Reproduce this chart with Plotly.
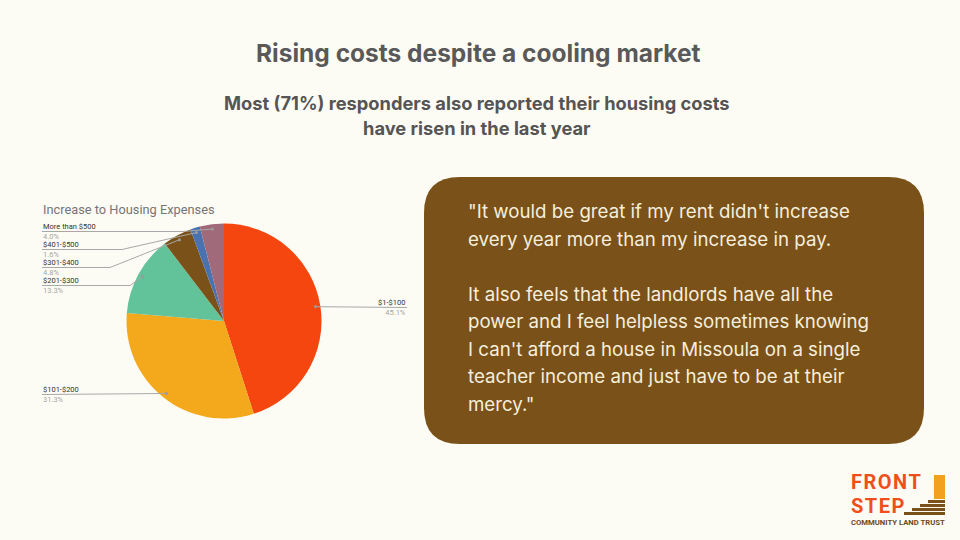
import plotly.graph_objects as go
import math

# ---------------- data ----------------
categories = ["$1-$100", "$101-$200", "$201-$300", "$301-$400", "$401-$500", "More than $500"]
values = [45.1, 31.3, 13.3, 4.8, 1.6, 4.0]
pct_labels = ["45.1%", "31.3%", "13.3%", "4.8%", "1.6%", "4.0%"]
slice_colors = ["#F4460E", "#F4A81C", "#62C29A", "#7A5118", "#4A72B0", "#A06A7A"]

title_text = "Rising costs despite a cooling market"
subtitle_lines = ["Most (71%) responders also reported their housing costs",
                  "have risen in the last year"]
chart_title = "Increase to Housing Expenses"
quote_lines = [
    "\"It would be great if my rent didn't increase",
    "every year more than my increase in pay.",
    "",
    "It also feels that the landlords have all the",
    "power and I feel helpless sometimes knowing",
    "I can't afford a house in Missoula on a single",
    "teacher income and just have to be at their",
    "mercy.\"",
]
logo_lines = ["FRONT", "STEP"]
logo_tagline = "COMMUNITY LAND TRUST"

# ---------------- layout settings ----------------
W, H = 960, 540
BG = "#FDFCF4"
CX, CY, R = 224, 321, 97.5           # pie centre / radius in pixels
# label placement (pixels): side, name-centre y, elbow x
label_side = ["right", "left", "left", "left", "left", "left"]
label_y = [302, 389, 280, 262, 244, 226]
label_elbow = [None, None, 130, 110, 122, 182]
LEFT_X = 42
RIGHT_X = 407
LBL_FS = 7.5

fig = go.Figure()

# hidden pixel-space axes
fig.add_trace(go.Scatter(x=[0, W], y=[0, H], mode="markers",
                         marker=dict(opacity=0), hoverinfo="skip", showlegend=False))

fig.add_trace(go.Pie(
    labels=categories, values=values, sort=False, direction="clockwise",
    rotation=0, textinfo="none", hoverinfo="label+percent",
    marker=dict(colors=slice_colors, line=dict(width=0)),
    domain=dict(x=[(CX - R) / W, (CX + R) / W],
                y=[(H - CY - R) / H, (H - CY + R) / H]),
    showlegend=False,
))

shapes = []
annotations = []

# brown rounded quote box
bx0, bx1, by0, by1, rr = 424, 924, 177, 444, 36
path = (f"M {bx0+rr},{by0} L {bx1-rr},{by0} Q {bx1},{by0} {bx1},{by0+rr} "
        f"L {bx1},{by1-rr} Q {bx1},{by1} {bx1-rr},{by1} L {bx0+rr},{by1} "
        f"Q {bx0},{by1} {bx0},{by1-rr} L {bx0},{by0+rr} Q {bx0},{by0} {bx0+rr},{by0} Z")
shapes.append(dict(type="path", path=path, xref="x", yref="y", layer="below",
                   fillcolor="#7A5118", line=dict(width=0)))

# leader lines computed from the data
total = sum(values)
cum = 0.0
for i, v in enumerate(values):
    mid = (cum + v / 2) / total
    cum += v
    ang = 2 * math.pi * mid
    dx = CX + 0.95 * R * math.sin(ang)
    dy = CY - 0.95 * R * math.cos(ang)
    ly = label_y[i] + 5.5
    if label_side[i] == "right":
        p = f"M {dx},{dy} L {RIGHT_X},{ly}"
        ax, anchor, align = RIGHT_X, "right", "right"
    else:
        ex = label_elbow[i]
        if ex is None:
            p = f"M {dx},{dy} L {LEFT_X},{ly}"
        else:
            p = f"M {dx},{dy} L {ex},{ly} L {LEFT_X},{ly}"
        ax, anchor, align = LEFT_X, "left", "left"
    shapes.append(dict(type="path", path=p, xref="x", yref="y", layer="above",
                       line=dict(color="#A8A8A8", width=1)))
    shapes.append(dict(type="circle", xref="x", yref="y", layer="above",
                       x0=dx - 1.6, x1=dx + 1.6, y0=dy - 1.6, y1=dy + 1.6,
                       fillcolor="#9A9A9A", line=dict(width=0)))
    annotations.append(dict(
        x=ax, y=label_y[i] + 5.5, xref="x", yref="y",
        text=f"{categories[i]}<br><span style='color:#A5A5A5'>{pct_labels[i]}</span>",
        showarrow=False, xanchor=anchor, yanchor="middle", align=align, borderpad=0,
        font=dict(family="Roboto", size=LBL_FS, color="#333333")))

# titles
annotations.append(dict(x=478, y=53, xref="x", yref="y", text=f"<b>{title_text}</b>",
                        showarrow=False, xanchor="center", yanchor="middle",
                        font=dict(family="Inter", size=24.5, color="#595959")))
for j, line in enumerate(subtitle_lines):
    annotations.append(dict(x=477, y=103 + 25 * j, xref="x", yref="y", text=f"<b>{line}</b>",
                            showarrow=False, xanchor="center", yanchor="middle",
                            font=dict(family="Inter", size=18.3, color="#555555")))
annotations.append(dict(x=41, y=209, xref="x", yref="y", text=chart_title,
                        showarrow=False, xanchor="left", yanchor="middle",
                        font=dict(family="Roboto", size=12.8, color="#757575")))

# quote text
for j, line in enumerate(quote_lines):
    if not line:
        continue
    annotations.append(dict(x=466, y=211.5 + 27.5 * j, xref="x", yref="y", text=line,
                            showarrow=False, xanchor="left", yanchor="middle",
                            font=dict(family="Inter", size=18.7, color="#F5EEDC")))

# logo
for txt, yy in zip(logo_lines, [482, 505.5]):
    annotations.append(dict(x=850, y=yy, xref="x", yref="y",
                            text=f"<b><span style='letter-spacing:1.5px'>{txt}</span></b>",
                            showarrow=False, xanchor="left", yanchor="middle", borderpad=0,
                            font=dict(family="Roboto", size=20, weight=900, color="#F04E1C")))
annotations.append(dict(x=898, y=522, xref="x", yref="y", text=f"<b>{logo_tagline}</b>",
                        showarrow=False, xanchor="center", yanchor="middle", borderpad=0,
                        font=dict(family="Roboto", size=7.7, color="#6B4A1E")))
shapes.append(dict(type="rect", xref="x", yref="y", x0=934, x1=945, y0=475, y1=499,
                   fillcolor="#F2A11E", line=dict(width=0)))
for k, sx in enumerate([928, 920, 912, 904]):
    y0 = 500 + 4 * k
    shapes.append(dict(type="rect", xref="x", yref="y", x0=sx, x1=945, y0=y0, y1=y0 + 3,
                       fillcolor="#7A5118", line=dict(width=0)))

fig.update_layout(
    width=W, height=H, margin=dict(l=0, r=0, t=0, b=0),
    paper_bgcolor=BG, plot_bgcolor=BG,
    xaxis=dict(range=[0, W], visible=False, fixedrange=True),
    yaxis=dict(range=[H, 0], visible=False, fixedrange=True),
    shapes=shapes, annotations=annotations, showlegend=False,
)

fig.write_html("out.html", config=dict(displayModeBar=False),
               post_script="document.body.style.margin='0';document.body.style.background='%s';" % BG)
